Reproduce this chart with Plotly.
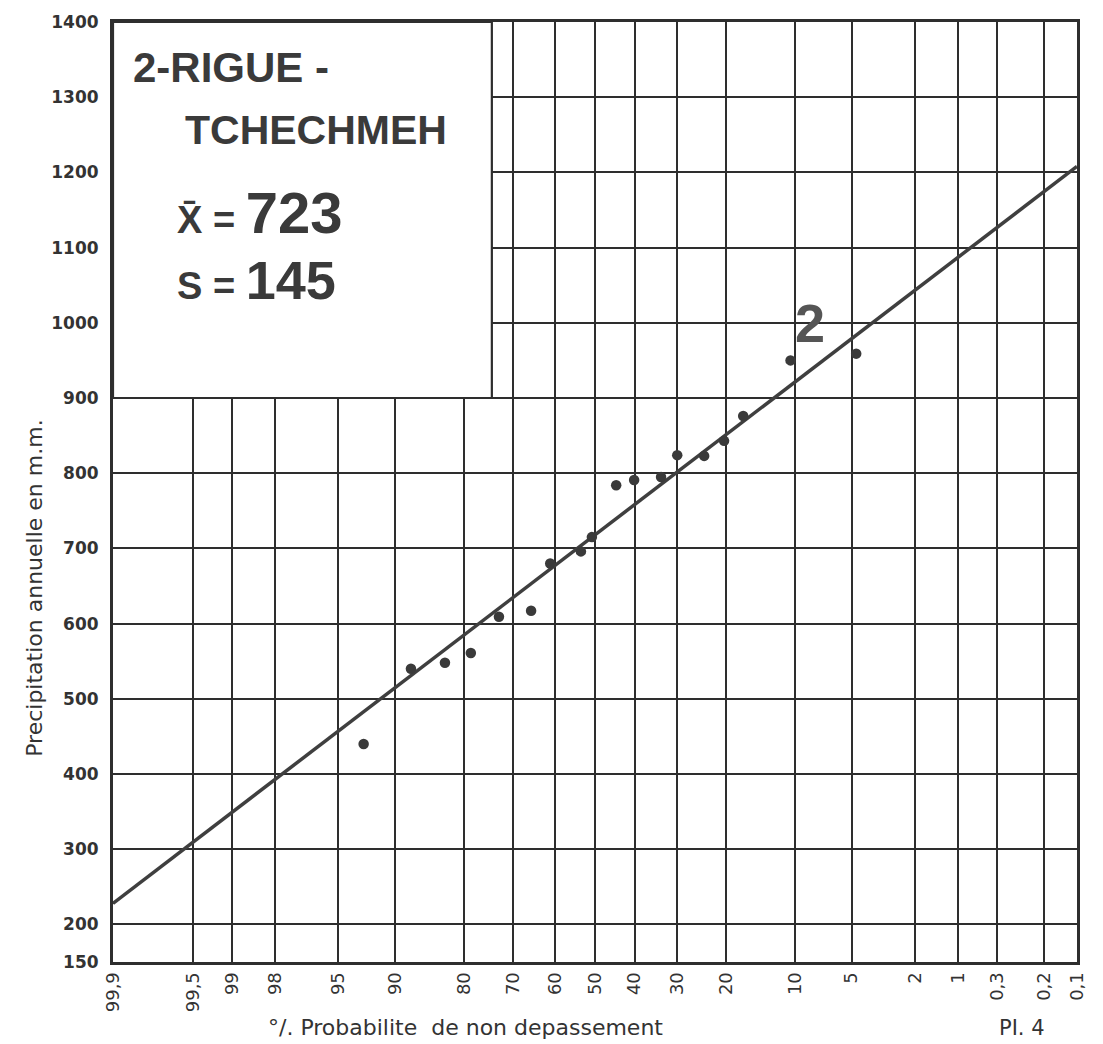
from statistics import NormalDist
import plotly.graph_objects as go

# ---- data ----
prob_pct = [93.1, 88.1, 83.2, 78.7, 73.1, 65.9, 61.3, 53.6, 50.8, 44.6,
            40.1, 33.6, 29.9, 24.2, 20.4, 17.1, 10.5, 4.7]
precip = [440, 540, 548, 561, 609, 617, 680, 696, 715, 784,
          791, 795, 824, 823, 843, 876, 950, 959]

fit_prob = [99.9, 0.1]
fit_precip = [228, 1208]

tick_probs = [99.9, 99.5, 99, 98, 95, 90, 80, 70, 60, 50, 40, 30, 20, 10, 5, 2, 1, 0.5, 0.2, 0.1]
tick_labels = ["99,9", "99,5", "99", "98", "95", "90", "80", "70", "60", "50",
               "40", "30", "20", "10", "5", "2", "1", "0,3", "0,2", "0,1"]

y_ticks = [150, 200, 300, 400, 500, 600, 700, 800, 900, 1000, 1100, 1200, 1300, 1400]
y_labels = ["150", "200", "300", "400", "500", "600", "700", "800", "900",
            "1000", "1100", "1200", "1300", "1400"]

station = ["2-RIGUE -", "TCHECHMEH"]
mean_val = 723
std_val = 145

nd = NormalDist()


def pos(p):
    # normal probability scale, high non-exceedance on the left
    return -nd.inv_cdf(p / 100.0)


INK = "#333333"

fig = go.Figure()
fig.add_trace(go.Scatter(
    x=[pos(p) for p in fit_prob], y=fit_precip, mode="lines",
    line=dict(color="#3f3f3f", width=3.5), showlegend=False, hoverinfo="skip"))
fig.add_trace(go.Scatter(
    x=[pos(p) for p in prob_pct], y=precip, mode="markers",
    marker=dict(color="#3a3a3a", size=10.5), showlegend=False))

fig.update_layout(
    width=1103, height=1044,
    margin=dict(l=113, r=26, t=22, b=82),
    paper_bgcolor="white", plot_bgcolor="white",
    font=dict(family="DejaVu Sans", color=INK),
    xaxis=dict(
        range=[pos(99.9), pos(0.1)],
        tickmode="array", tickvals=[pos(p) for p in tick_probs], ticktext=tick_labels,
        tickangle=-90, tickfont=dict(family="DejaVu Sans", size=18, color=INK),
        showgrid=True, gridcolor="#2e2e2e", gridwidth=1.6,
        showline=True, linecolor="#2e2e2e", linewidth=3, mirror=True,
        zeroline=False, ticks="",
    ),
    yaxis=dict(
        range=[150, 1400],
        tickmode="array", tickvals=y_ticks, ticktext=y_labels,
        tickfont=dict(family="DejaVu Sans", size=17, color=INK, weight="bold"),
        showgrid=True, gridcolor="#2e2e2e", gridwidth=1.6,
        showline=True, linecolor="#2e2e2e", linewidth=3, mirror=True,
        zeroline=False, ticks="", ticklabelstandoff=8,
    ),
)

# white legend box in the upper-left corner
fig.add_shape(type="rect", xref="paper", yref="y", x0=0, x1=0.393, y0=900, y1=1400,
              fillcolor="white", line=dict(color="#2e2e2e", width=2.2), layer="above")

BOXFONT = "Liberation Sans"
ann = []
ann.append(dict(text=station[0], x=0.019, y=0.952, xanchor="left", yanchor="middle",
                font=dict(family=BOXFONT, size=42, color="#3a3a3a", weight="bold")))
ann.append(dict(text=station[1], x=0.073, y=0.885, xanchor="left", yanchor="middle",
                font=dict(family=BOXFONT, size=41, color="#3a3a3a", weight="bold")))
ann.append(dict(text="X\u0304 = <span style='font-size:58px'>%d</span>" % mean_val,
                x=0.064, y=0.797, xanchor="left", yanchor="middle",
                font=dict(family=BOXFONT, size=38, color="#3a3a3a", weight="bold")))
ann.append(dict(text="S = <span style='font-size:54px'>%d</span>" % std_val,
                x=0.064, y=0.726, xanchor="left", yanchor="middle",
                font=dict(family=BOXFONT, size=38, color="#3a3a3a", weight="bold")))
ann.append(dict(text="2", x=0.723, y=0.680, xanchor="center", yanchor="middle",
                font=dict(family=BOXFONT, size=54, color="#555555", weight="bold")))
ann.append(dict(text="Precipitation annuelle en m.m.", x=-0.081, y=0.398,
                xanchor="center", yanchor="middle", textangle=-90,
                font=dict(family="DejaVu Sans", size=22, color=INK)))
ann.append(dict(text="°/. Probabilite  de non depassement", x=0.366, y=-0.070,
                xanchor="center", yanchor="middle",
                font=dict(family="DejaVu Sans", size=22, color=INK)))
ann.append(dict(text="PI. 4", x=0.943, y=-0.0855, xanchor="center", yanchor="bottom",
                font=dict(family="DejaVu Sans", size=21, color=INK)))
for a in ann:
    a.update(xref="paper", yref="paper", showarrow=False)
fig.update_layout(annotations=ann)

fig.write_html("out.html", config={"displayModeBar": False},
               post_script="document.body.style.margin='0px';")
